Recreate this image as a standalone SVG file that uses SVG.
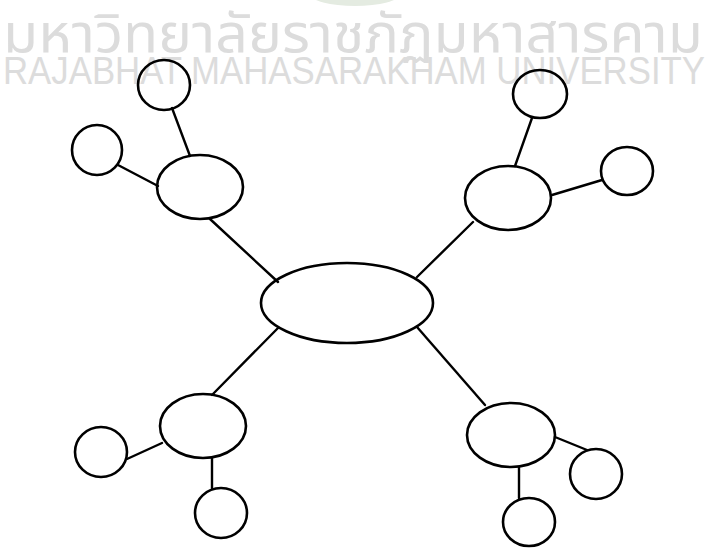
<svg xmlns="http://www.w3.org/2000/svg" width="707" height="548" viewBox="0 0 707 548">
<style>
.wm{fill:#dcdcdc;font-family:"Noto Sans Thai","Noto Sans","DejaVu Sans",sans-serif}
.wme{fill:#dcdcdc;font-family:"Liberation Sans Narrow","Liberation Sans",Arial,sans-serif}
.n{fill:none;stroke:#000;stroke-width:2.6}
.c line{stroke:#000;stroke-width:2.4;stroke-linecap:round}
</style>
<rect width="707" height="548" fill="#fff"/>
<g id="watermark">
<ellipse cx="355" cy="-6" rx="45" ry="12" fill="#e4ebe1"/>
<text class="wm" x="3" y="52" font-size="54" textLength="700" lengthAdjust="spacingAndGlyphs">มหาวิทยาลัยราชภัฏมหาสารคาม</text>
<text class="wme" x="3" y="84" font-size="39" textLength="702" lengthAdjust="spacingAndGlyphs">RAJABHAT MAHASARAKHAM UNIVERSITY</text>
</g>
<g id="connectors" class="c">
<line x1="210" y1="219" x2="278" y2="282"/>
<line x1="473" y1="222" x2="417" y2="277"/>
<line x1="212" y1="395" x2="278" y2="328"/>
<line x1="485" y1="405" x2="417" y2="327"/>
<line x1="172" y1="108" x2="190" y2="156"/>
<line x1="118" y1="165" x2="158" y2="186"/>
<line x1="532" y1="118" x2="515" y2="166"/>
<line x1="552" y1="195" x2="602" y2="180"/>
<line x1="127" y1="459" x2="162" y2="443"/>
<line x1="212" y1="458" x2="212" y2="488"/>
<line x1="555" y1="437" x2="587" y2="450"/>
<line x1="519" y1="468" x2="519" y2="498"/>
</g>
<g id="center"><ellipse class="n" cx="347" cy="303" rx="86" ry="40"/></g>
<g id="tl"><ellipse class="n" cx="200" cy="187" rx="43" ry="32"/></g>
<g id="tl-a"><ellipse class="n" cx="164" cy="85" rx="26" ry="25"/></g>
<g id="tl-b"><ellipse class="n" cx="97" cy="150" rx="25" ry="25"/></g>
<g id="tr"><ellipse class="n" cx="508" cy="198" rx="43" ry="32"/></g>
<g id="tr-a"><ellipse class="n" cx="540" cy="94" rx="27" ry="24"/></g>
<g id="tr-b"><ellipse class="n" cx="627" cy="171" rx="26" ry="24"/></g>
<g id="bl"><ellipse class="n" cx="203" cy="426" rx="43" ry="32"/></g>
<g id="bl-a"><ellipse class="n" cx="101" cy="452" rx="26" ry="25"/></g>
<g id="bl-b"><ellipse class="n" cx="221" cy="513" rx="26" ry="25"/></g>
<g id="br"><ellipse class="n" cx="511" cy="435" rx="44" ry="32"/></g>
<g id="br-a"><ellipse class="n" cx="596" cy="474" rx="26" ry="25"/></g>
<g id="br-b"><ellipse class="n" cx="529" cy="522" rx="26" ry="24"/></g>
</svg>
